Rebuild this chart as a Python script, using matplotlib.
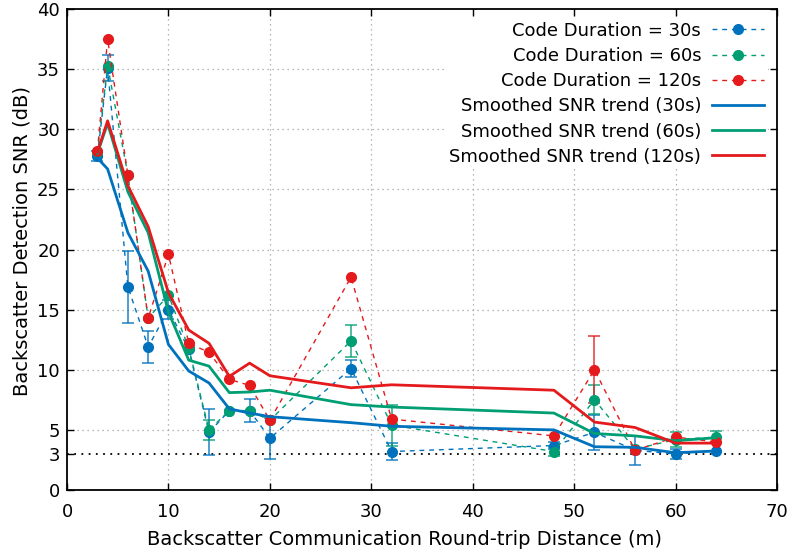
import matplotlib
matplotlib.use("Agg")
from matplotlib import pyplot as plt

# Round-trip distance (m) where each measurement was taken
dist = [3, 4, 6, 8, 10, 12, 14, 16, 18, 20, 28, 32, 48, 52, 56, 60, 64]

# Measured detection SNR (dB) and its spread, per code duration (0 = no bar drawn)
snr_30 = [27.8, 35.1, 16.9, 11.9, 15.0, 11.7, 4.8, 6.6, 6.6, 4.3, 10.1, 3.2, 3.7, 4.8, 3.3, 3.0, 3.25]
err_30 = [0.4, 1.1, 3.0, 1.35, 0.8, 0, 1.9, 0, 0.95, 1.7, 0.7, 0.7, 0.3, 1.45, 1.2, 0.4, 0]

snr_60 = [28.1, 35.3, 26.2, 14.3, 16.2, 11.8, 5.0, 6.6, 6.6, 5.8, 12.4, 5.4, 3.2, 7.5, 3.4, 4.2, 4.4]
err_60 = [0, 0, 0, 0, 0, 0, 0.8, 0, 0, 0, 1.3, 1.7, 0.4, 1.2, 0, 0.6, 0.5]

snr_120 = [28.2, 37.5, 26.2, 14.3, 19.6, 12.2, 11.45, 9.2, 8.7, 5.8, 17.7, 5.9, 4.5, 10.0, 3.3, 4.4, 4.0]
err_120 = [0, 0, 0, 0, 0, 0, 0, 0, 0, 0, 0, 0, 0, 2.8, 0, 0, 0]

# Smoothed trends
trend_30 = [27.6, 26.7, 21.4, 18.2, 12.1, 9.9, 8.9, 6.75, 6.4, 6.1, 5.6, 5.3, 5.0, 3.6, 3.55, 3.1, 3.25]
trend_60 = [28.0, 30.5, 24.8, 21.4, 14.8, 10.8, 10.3, 8.1, 8.15, 8.3, 7.1, 6.9, 6.4, 4.7, 4.5, 4.1, 4.35]
trend_120 = [28.1, 30.7, 25.3, 21.9, 16.4, 13.3, 12.2, 9.45, 10.55, 9.5, 8.5, 8.75, 8.3, 5.65, 5.2, 3.9, 3.9]

labels = ["30s", "60s", "120s"]
colors = ["#0072bd", "#009e73", "#e41a1c"]

plt.rcParams['font.family'] = 'DejaVu Sans'

fig = plt.figure(figsize=(7.96, 5.59), dpi=100)
ax = fig.add_axes([0.0842, 0.1234, 0.8920, 0.8605])

measured = [(snr_30, err_30), (snr_60, err_60), (snr_120, err_120)]
trends = [trend_30, trend_60, trend_120]

# dashed measurement curves with error bars
for (snr, err), lab, c in zip(measured, labels, colors):
    idx = [i for i, e in enumerate(err) if e > 0]
    ax.errorbar([dist[i] for i in idx], [snr[i] for i in idx], yerr=[err[i] for i in idx],
                fmt='none', ecolor=c, elinewidth=1.3, capsize=4, capthick=1.3,
                alpha=0.75, zorder=3)
    ax.plot(dist, snr, color=c, linestyle=(0, (3.5, 3.5)), linewidth=1.0,
            marker='o', markersize=7, label="Code Duration = " + lab, zorder=4)

# smoothed trend lines
for tr, lab, c in zip(trends, labels, colors):
    ax.plot(dist, tr, color=c, linewidth=2.0,
            label="Smoothed SNR trend (" + lab + ")", zorder=5)

# 3 dB reference line
ax.axhline(3, color='black', linestyle=(0, (1, 3)), linewidth=1.3, zorder=2)

ax.set_xlim(0, 70)
ax.set_ylim(0, 40)
ax.set_xticks(range(0, 71, 10))
ax.set_yticks([0, 3, 5, 10, 15, 20, 25, 30, 35, 40])

for x in range(10, 70, 10):
    ax.axvline(x, color='#a0a0a0', linestyle=(0, (1, 3)), linewidth=0.9, zorder=1)
for y in range(5, 40, 5):
    ax.axhline(y, color='#a0a0a0', linestyle=(0, (1, 3)), linewidth=0.9, zorder=1)

ax.tick_params(direction='in', top=True, right=True, length=5, width=1,
               labelsize=13, colors='black')
ax.tick_params(axis='x', pad=9.5)
ax.tick_params(axis='y', pad=5)
for s in ax.spines.values():
    s.set_linewidth(1.3)

ax.set_xlabel("Backscatter Communication Round-trip Distance (m)", fontsize=14)
ax.set_ylabel("Backscatter Detection SNR (dB)", fontsize=14)
ax.xaxis.set_label_coords(0.475, -0.083)
ax.yaxis.set_label_coords(-0.05, 0.517)

leg = ax.legend(loc='upper right', markerfirst=False, numpoints=1, fontsize=13,
                handlelength=2.9, labelspacing=0.4, frameon=True, framealpha=1,
                edgecolor='none', borderaxespad=0.5, borderpad=0.2, handletextpad=0.6)
leg.get_frame().set_linewidth(0)
leg.set_zorder(10)

fig.savefig("out.png", dpi=100)
